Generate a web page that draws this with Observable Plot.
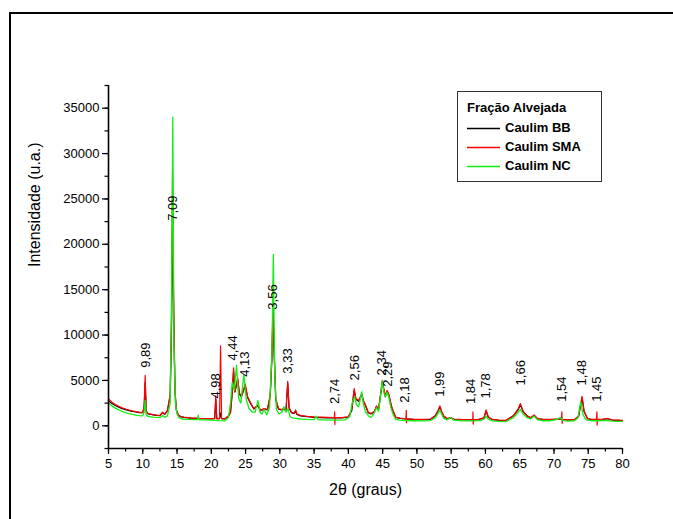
<!DOCTYPE html>
<html><head><meta charset="utf-8">
<script src="https://cdn.jsdelivr.net/npm/d3@7"></script>
<script src="https://cdn.jsdelivr.net/npm/@observablehq/plot@0.6"></script>
<style>
body{margin:0;background:#fff;}
#wrap{position:relative;width:673px;height:519px;overflow:hidden;font-family:Arial,"Liberation Sans",sans-serif;}
#frame{position:absolute;left:9px;top:12px;width:720px;height:600px;border-left:2px solid #000;border-top:2px solid #000;pointer-events:none;}
#legend{position:absolute;left:457px;top:91px;width:145px;height:91px;border:1px solid #333;box-sizing:border-box;background:#fff;}
#legend .t{position:absolute;left:9px;top:8px;font-weight:bold;font-size:13px;line-height:16px;color:#000;white-space:nowrap;}
#legend .row{position:absolute;left:9px;height:16px;font-weight:bold;font-size:13px;line-height:16px;color:#000;white-space:nowrap;}
#legend svg{position:absolute;left:0;top:0;}
#legend .lb{position:absolute;left:38px;top:0;}
</style></head>
<body>
<div id="wrap"><div id="frame"></div></div>
<script>
// ---- data ----
const seriesNames = ["Caulim BB", "Caulim SMA", "Caulim NC"];
const seriesColors = ["#000000", "#ff0000", "#11ee11"];
const legendTitle = "Fração Alvejada";

const bbTheta = [5,5.5,6,6.5,7,7.5,8,8.5,9,9.5,10,10.2,10.35,10.5,10.7,11,11.5,12,12.5,12.9,13.2,13.6,14.0,14.2,14.35,14.5,14.7,14.9,15.2,15.6,16,17,18,19,20,20.5,20.65,20.8,21.2,21.35,21.5,22,22.5,22.8,23,23.25,23.45,23.85,24.1,24.4,24.95,25.3,25.7,26.2,26.8,27.2,27.7,28.2,28.6,28.85,29.0,29.15,29.4,29.8,30.2,30.6,30.9,31.15,31.35,31.7,32.1,32.3,32.5,33,34,35,36,37,38,39,40,40.5,40.85,41.1,41.5,41.95,42.2,42.5,42.9,43.3,43.8,44.1,44.4,44.7,44.95,45.2,45.4,45.65,45.9,46.2,46.4,46.9,47.5,48,49.5,51,52,52.7,53.1,53.35,53.6,53.9,54.4,54.9,55.4,56.5,57.5,58.2,59,59.8,60.1,60.4,61,62,63,64.1,64.8,65.1,65.5,66.1,66.6,67.1,67.6,68.5,69.5,70.5,71.1,72,73,73.6,74.1,74.4,74.9,75.5,77,77.8,78.5,79.3,80];
const bbInt = [2750,2450,2230,2050,1900,1780,1680,1590,1520,1460,1440,2000,4800,1600,1330,1280,1210,1150,1120,1450,1250,1650,3300,11000,24000,13000,3800,1700,1150,980,920,850,810,780,770,800,2900,780,780,1400,780,760,1050,1450,3100,6000,3700,5100,3500,3200,4400,3100,2500,1850,2200,1650,1850,1750,3300,7500,12500,8500,2900,1850,1750,1850,1650,4700,1950,1450,1350,1600,1250,1100,1000,940,910,880,880,870,960,1700,3900,2900,2700,3400,2700,2200,1450,1300,1550,2100,1750,3400,4800,3900,3200,3800,3400,2400,1850,920,820,780,700,680,720,1100,1650,2100,1550,1050,780,870,720,680,660,650,680,870,1650,970,680,600,580,1100,1800,2350,1550,1050,870,1150,780,680,680,720,700,630,680,1050,3100,1550,780,680,680,780,630,600,580];

const smaTheta = [5,5.5,6,6.5,7,7.5,8,8.5,9,9.5,10,10.2,10.35,10.5,10.7,11,11.5,12,12.5,12.9,13.2,13.6,14.0,14.2,14.35,14.5,14.7,14.9,15.2,15.6,16,17,18,19,20,20.5,20.65,20.8,21.2,21.35,21.5,22,22.5,22.8,23,23.25,23.45,23.85,24.1,24.4,24.95,25.3,25.7,26.2,26.8,27.2,27.7,28.2,28.6,28.85,29.0,29.15,29.4,29.8,30.2,30.6,30.9,31.15,31.35,31.7,32.1,32.3,32.5,33,34,35,36,37,37.95,38.0,38.03,38.08,39,40,40.5,40.85,41.1,41.5,41.95,42.2,42.5,42.9,43.3,43.8,44.1,44.4,44.7,44.95,45.2,45.4,45.65,45.9,46.2,46.4,46.9,47.5,48,48.4,48.45,48.48,48.55,49.5,51,52,52.7,53.1,53.35,53.6,53.9,54.4,54.9,55.4,56.5,57.5,58.15,58.18,58.22,58.28,59,59.8,60.1,60.4,61,62,63,64.1,64.8,65.1,65.5,66.1,66.6,67.1,67.6,68.5,69.5,70.5,71.1,71.15,71.2,71.25,72,73,73.6,74.1,74.4,74.9,75.5,76.2,76.27,76.3,76.35,77,77.8,78.5,79.3,80];
const smaInt = [2950,2600,2350,2150,1980,1850,1740,1640,1560,1500,1480,2200,5550,1700,1380,1320,1250,1180,1150,1500,1300,1700,3500,12000,28000,14000,4000,1800,1200,1000,950,880,830,800,790,820,3300,800,800,8800,800,780,1100,1500,3200,6400,3800,5300,3600,3300,4600,3200,2600,1900,2300,1700,1900,1800,3500,8000,13500,9000,3000,1900,1800,1900,1700,4900,2000,1500,1400,1750,1300,1150,1050,980,950,920,900,1550,150,900,900,1000,1800,4100,3000,2800,3550,2800,2300,1500,1350,1600,2200,1800,3500,5000,4000,3300,3900,3500,2500,1900,950,850,800,780,1700,350,780,720,700,750,1150,1700,2200,1600,1100,800,900,750,700,680,650,1550,190,650,700,900,1750,1000,700,620,600,1150,1900,2450,1600,1100,900,1200,800,700,700,750,720,1550,260,700,650,700,1100,3250,1600,800,700,700,1550,80,700,700,810,650,620,600];

const ncTheta = [5,5.5,6,6.5,7,7.5,8,8.5,9,9.5,10,10.2,10.35,10.5,10.7,11,11.5,12,12.5,12.9,13.2,13.6,14.0,14.2,14.38,14.55,14.75,15.0,15.3,15.7,16.5,17.5,18.0,18.1,18.2,19,20,21,22,22.5,22.8,23.05,23.35,23.68,24.0,24.3,24.75,25.1,25.5,26.0,26.4,26.8,27.1,27.4,27.7,28.1,28.5,28.85,29.05,29.25,29.5,29.9,30.3,30.6,30.9,31.2,31.5,32,33,34,35,35.3,35.6,36.5,37.5,38.5,39.5,40.2,40.55,40.9,41.2,41.5,41.95,42.2,42.5,43,43.3,43.7,44.1,44.4,44.7,44.95,45.2,45.4,45.65,45.9,46.2,46.5,46.9,47.5,48.5,49.5,51,52,52.7,53.1,53.35,53.6,53.9,54.4,54.9,55.4,56.5,57.5,58.5,59.3,59.8,60.1,60.4,61,62,63,64.1,64.8,65.1,65.5,66.1,66.6,67.1,67.6,68.5,69.5,70.5,70.9,71.3,72,73,73.5,73.9,74.25,74.7,75.5,76.5,77.5,78.5,79.3,80];
const ncInt = [2500,2200,1950,1750,1580,1450,1340,1250,1180,1130,1100,1500,2800,1200,1050,1000,950,920,900,1150,950,1100,2500,14000,34000,9000,2600,1300,900,750,700,680,680,1180,670,650,620,570,550,900,2500,4800,3900,6650,3000,2500,5600,2900,1900,1500,1500,2800,1500,1300,1800,1200,2000,8000,18900,6000,1800,1300,1500,2100,1500,1900,1000,850,750,700,680,1070,680,650,630,620,650,1000,2500,3200,2300,2100,3750,2400,1550,1050,920,1300,2000,1600,3300,4950,3600,3200,3700,3200,2000,1300,700,620,580,560,550,580,900,1400,1750,1300,850,650,920,620,560,550,540,580,750,1070,750,550,500,470,900,1500,1800,1300,900,750,1070,650,560,560,700,920,600,520,560,900,2640,1200,650,560,560,600,520,500,500];

const peakLabels = ["9,89","7,09","4,98","4,44","4,13","3,56","3,33","2,74","2,56","2,34","2,29","2,18","1,99","1,84","1,78","1,66","1,54","1,48","1,45"];
const peakTheta  = [10.4,14.4,20.6,23.2,24.9,29.0,31.2,38.0,40.9,44.9,45.8,48.3,53.4,57.9,60.0,65.1,71.1,74.1,76.3];
const peakInt    = [6400,22600,3000,7200,5400,12800,5750,2400,5000,5550,4300,2550,3200,2400,3000,4450,2650,4450,2650];

const xMajor = [5,10,15,20,25,30,35,40,45,50,55,60,65,70,75,80];
const yMajor = [0,5000,10000,15000,20000,25000,30000,35000];
const xTitle = "2θ (graus)";
const yTitle = "Intensidade (u.a.)";

// ---- build ----
const toRows = (xs, ys) => xs.map((x, i) => ({x, y: ys[i]}));
const bb = toRows(bbTheta, bbInt);
const sma = toRows(smaTheta, smaInt);
const nc = toRows(ncTheta, ncInt);
const peaks = peakLabels.map((t, i) => ({t, x: peakTheta[i], y: peakInt[i]}));

const xMinor = d3.range(5, 80.01, 2.5);
const yMinor = d3.range(-2500, 37500.01, 2500);

const chart = Plot.plot({
  width: 673, height: 519,
  marginLeft: 108, marginRight: 51, marginTop: 85, marginBottom: 71,
  style: {fontFamily: "Arial, 'Liberation Sans', sans-serif", fontSize: "13px", color: "#000", background: "transparent"},
  x: {domain: [5, 80]},
  y: {domain: [-2500, 37500]},
  marks: [
    Plot.axisX(xMinor, {tickSize: 3.5, tickFormat: () => "", label: null, strokeWidth: 1.2}),
    Plot.axisX(xMajor, {tickSize: 6, tickPadding: 4, fontSize: 13, label: null, strokeWidth: 1.2}),
    Plot.axisY(yMinor, {tickSize: 3.5, tickFormat: () => "", label: null, strokeWidth: 1.2}),
    Plot.axisY(yMajor, {tickSize: 6, tickPadding: 3, fontSize: 13, tickFormat: d3.format("d"), label: null, strokeWidth: 1.2}),
    Plot.line(bb, {x: "x", y: "y", stroke: seriesColors[0], strokeWidth: 1.2}),
    Plot.line(sma, {x: "x", y: "y", stroke: seriesColors[1], strokeWidth: 1.2}),
    Plot.line(nc, {x: "x", y: "y", stroke: seriesColors[2], strokeWidth: 1.3}),
    Plot.ruleX([5], {y1: -2500, y2: 37500, stroke: "#000", strokeWidth: 1.6}),
    Plot.ruleY([-2500], {x1: 5, x2: 80, stroke: "#000", strokeWidth: 1.6}),
    Plot.text(peaks, {x: "x", y: "y", text: "t", rotate: -90, textAnchor: "start", lineAnchor: "middle", fontSize: 13, fill: "#000"}),
    Plot.text([xTitle], {frameAnchor: "bottom", dy: 46, fontSize: 16, fill: "#000"}),
    Plot.text([yTitle], {frameAnchor: "left", dx: -74, rotate: -90, fontSize: 16, fill: "#000"})
  ]
});
const wrap = document.getElementById("wrap");
wrap.insertBefore(chart, wrap.firstChild);

// legend
const NS = "http://www.w3.org/2000/svg";
const lg = document.createElement("div");
lg.id = "legend";
const tt = document.createElement("div");
tt.className = "t"; tt.textContent = legendTitle;
lg.appendChild(tt);
seriesNames.forEach((n, i) => {
  const r = document.createElement("div");
  r.className = "row";
  r.style.top = (28 + i * 19) + "px";
  const sv = document.createElementNS(NS, "svg");
  sv.setAttribute("width", "34"); sv.setAttribute("height", "16");
  const ln = document.createElementNS(NS, "line");
  ln.setAttribute("x1", "0"); ln.setAttribute("x2", "33");
  ln.setAttribute("y1", "8.5"); ln.setAttribute("y2", "8.5");
  ln.setAttribute("stroke", seriesColors[i]); ln.setAttribute("stroke-width", "1.3");
  sv.appendChild(ln);
  const lb = document.createElement("div");
  lb.className = "lb"; lb.textContent = n;
  r.appendChild(sv); r.appendChild(lb);
  lg.appendChild(r);
});
wrap.appendChild(lg);
</script>
</body></html>
